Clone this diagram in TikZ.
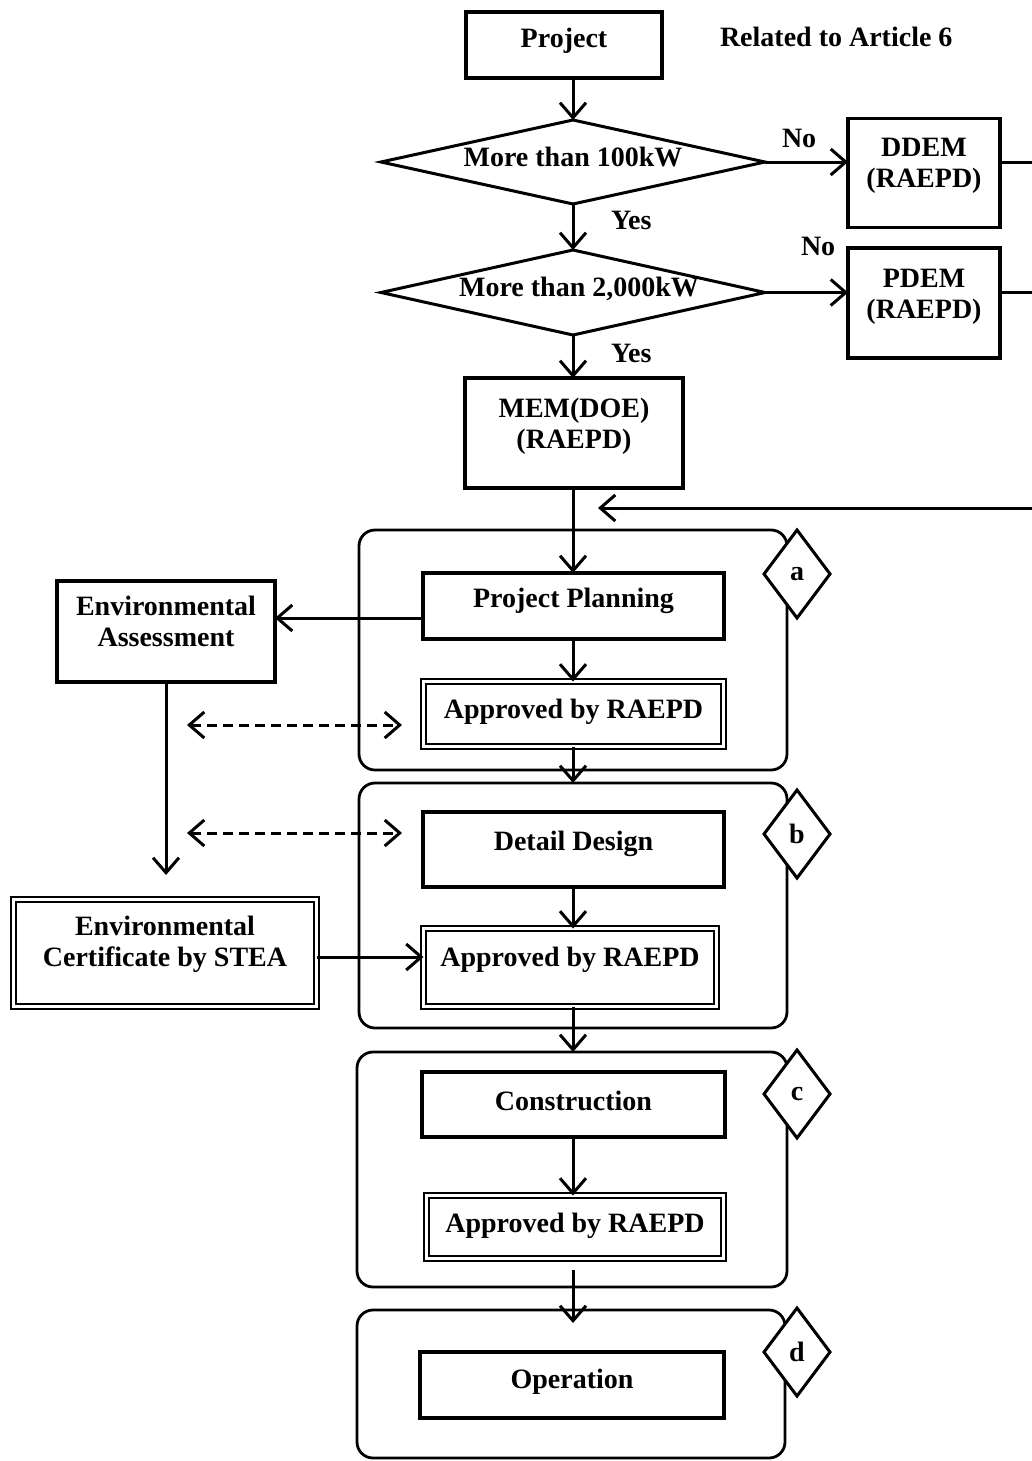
\documentclass[tikz,border=0pt]{standalone}
\usepackage{fontspec}
\setmainfont{Liberation Serif}
\usetikzlibrary{arrows.meta,shapes.geometric,calc}
\newcommand\tx[2]{\raisebox{#1}[0pt][0pt]{\begin{tabular}[t]{@{}c@{}}#2\end{tabular}}}
\begin{document}
\begin{tikzpicture}[x=1pt,y=-1pt,
  font=\fontsize{28}{31}\selectfont\bfseries,
  every node/.style={inner sep=0pt, outer sep=0pt},
  box/.style={draw, line width=3.4pt, rectangle},
  dbox/.style={draw, line width=2.4pt, double, double distance=2.4pt, rectangle},
  grp/.style={draw, line width=2.8pt, rectangle, rounded corners=16pt},
  tag/.style={draw, diamond, aspect=0.75, fill=white, line width=3pt, minimum width=66pt, minimum height=88pt},
  dec/.style={draw, diamond, aspect=4.5, line width=3pt, minimum width=384pt},
  tipb/.tip={Straight Barb[length=15pt,width=26pt]},
  ln/.style={line width=3pt},
  arr/.style={line width=3pt, -tipb},
  dsh/.style={line width=3pt, dash pattern=on 10pt off 6pt, tipb-tipb}]
\useasboundingbox (0,0) rectangle (1032,1461);

% groups
\node[grp, minimum width=428pt, minimum height=240pt] (ga) at (573,650) {};
\node[grp, minimum width=428pt, minimum height=245pt] (gb) at (573,905.5) {};
\node[grp, minimum width=430pt, minimum height=235pt] (gc) at (572,1169.5) {};
\node[grp, minimum width=428pt, minimum height=148pt] (gd) at (571,1384) {};
\node[tag] (ta) at (797,574) {a};
\node[tag] (tb) at (797,834) {b};
\node[tag] (tc) at (797,1094) {c};
\node[tag] (td) at (797,1352) {d};

% top part
\node[box, minimum width=196pt, minimum height=66pt] (project) at (564,45) {\tx{-3pt}{Project}};
\node[anchor=base west] (rel) at (720,47) {Related to Article 6};
\node[dec, minimum height=84pt] (d1) at (573,162) {\tx{-4pt}{More than 100kW}};
\node[dec, minimum height=85pt] (d2) at (573,292.5) {\tx{-4pt}{\hspace*{12pt}More than 2,000kW}};
\node[box, minimum width=152pt, minimum height=109pt] (ddem) at (924,173) {\tx{17pt}{DDEM\\(RAEPD)}};
\node[box, minimum width=152pt, minimum height=110pt] (pdem) at (924,303) {\tx{16pt}{PDEM\\(RAEPD)}};
\node[box, minimum width=218pt, minimum height=110pt] (mem) at (574,433) {\tx{16pt}{MEM(DOE)\\(RAEPD)}};
\node[anchor=base west] (no1) at (782,147) {No};
\node[anchor=base west] (no2) at (801,255) {No};
\node[anchor=base west] (yes1) at (611,229) {Yes};
\node[anchor=base west] (yes2) at (611,362) {Yes};

% process boxes
\node[box, minimum width=301pt, minimum height=66pt] (pp) at (573.5,606) {\tx{-1pt}{Project Planning}};
\node[dbox, minimum width=300pt, minimum height=65pt] (appa) at (573.5,714) {\tx{-4pt}{Approved by RAEPD}};
\node[box, minimum width=218pt, minimum height=101pt] (ea) at (166,631.5) {\tx{16.5pt}{Environmental\\Assessment}};
\node[box, minimum width=301pt, minimum height=75pt] (dd) at (573.5,849.5) {\tx{-0.5pt}{Detail Design}};
\node[dbox, minimum width=293pt, minimum height=78pt] (appb) at (570,967.5) {\tx{1.5pt}{Approved by RAEPD}};
\node[dbox, minimum width=303pt, minimum height=107pt] (envc) at (165,953) {\tx{18pt}{Environmental\\Certificate by STEA}};
\node[box, minimum width=303pt, minimum height=65pt] (cons) at (573.5,1104.5) {\tx{-5.5pt}{Construction}};
\node[dbox, minimum width=297pt, minimum height=63pt] (appc) at (575,1227) {\tx{-5pt}{Approved by RAEPD}};
\node[box, minimum width=304pt, minimum height=66pt] (oper) at (572,1385) {\tx{-3pt}{Operation}};

% free ends
\coordinate (e1) at (1040,162);
\coordinate (e2) at (1040,292.5);
\coordinate (e3) at (1040,508);
\coordinate (t3) at (598,508);
\coordinate (eae) at (165,875);
\coordinate (da1) at (187,725);
\coordinate (da2) at (402,725);
\coordinate (db1) at (187,833);
\coordinate (db2) at (402,833);

% connectors
\draw[arr] (d1.north |- project.south) -- (d1.north);
\draw[arr] (d1.south) -- (d2.north);
\draw[arr] (d2.south) -- (d2.south |- mem.north);
\draw[arr] (d1.east) -- (d1.east -| ddem.west);
\draw[arr] (d2.east) -- (d2.east -| pdem.west);
\draw[ln] (d1.east -| ddem.east) -- (e1);
\draw[ln] (d2.east -| pdem.east) -- (e2);
\draw[arr] (e3) -- (t3);
\draw[arr] (d2.south |- mem.south) -- (d2.south |- pp.north);
\draw[arr] ([yshift=-12pt]pp.west) -- ([yshift=-12pt]pp.west -| ea.east);
\draw[arr] (d2.south |- pp.south) -- (d2.south |- appa.north);
\draw[arr] (ea.south) -- (ea.south |- eae);
\draw[dsh] (da1) -- (da2);
\draw[dsh] (db1) -- (db2);
\draw[arr] (d2.south |- appa.south) -- (d2.south |- gb.north);
\draw[arr] (d2.south |- dd.south) -- (d2.south |- appb.north);
\draw[arr] ([yshift=-4pt]envc.east) -- ([yshift=-4pt]envc.east -| appb.west);
\draw[arr] (d2.south |- appb.south) -- (d2.south |- gc.north);
\draw[arr] (d2.south |- cons.south) -- (d2.south |- appc.north);
\draw[arr] ($(d2.south |- appc.south)+(0,11)$) -- ($(d2.south |- gd.north)+(0,13)$);
\end{tikzpicture}
\end{document}
